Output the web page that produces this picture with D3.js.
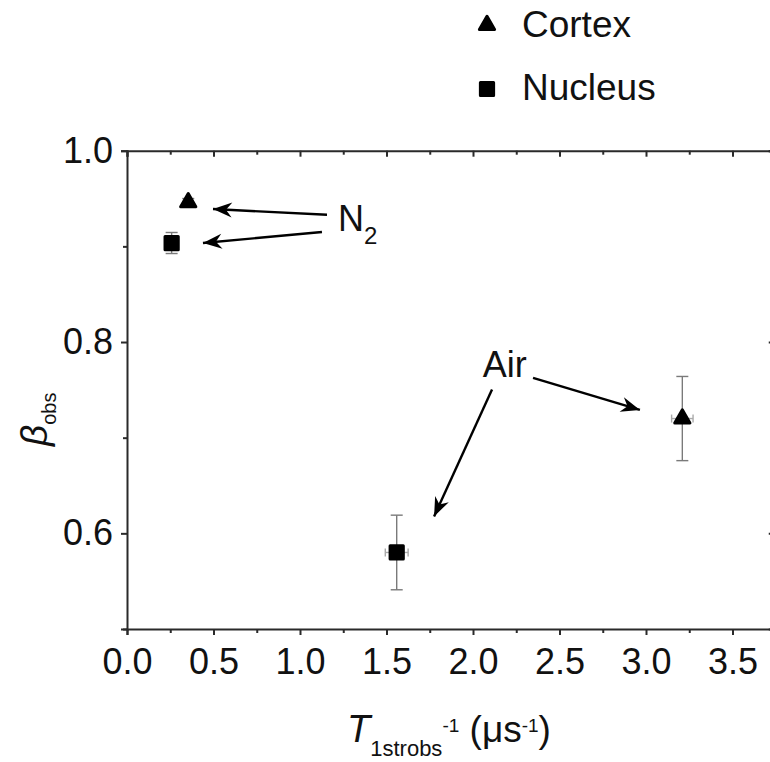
<!DOCTYPE html>
<html>
<head>
<meta charset="utf-8">
<script src="https://cdn.jsdelivr.net/npm/d3@7"></script>
<style>
  body { margin: 0; background: #fff; }
  svg text { font-family: "Liberation Sans", Arial, sans-serif; fill: #111; }
</style>
</head>
<body>
<svg width="770" height="762"></svg>
<script>
// data
var groups = ["Cortex", "Nucleus"]
var cortexX = [0.354, 3.21]
var cortexY = [0.946, 0.72]
var cortexXErr = [0.02, 0.062]
var cortexYErr = [0.004, 0.044]
var nucleusX = [0.258, 1.559]
var nucleusY = [0.9035, 0.58]
var nucleusXErr = [0.03, 0.066]
var nucleusYErr = [0.011, 0.039]

var xTicks = [0, 0.5, 1.0, 1.5, 2.0, 2.5, 3.0, 3.5]
var xMinor = [0.25, 0.75, 1.25, 1.75, 2.25, 2.75, 3.25, 3.75]
var yTicks = [0.6, 0.8, 1.0]
var yMinor = [0.5, 0.7, 0.9]

// annotation labels and arrows, in data units
var labels = [
  {text: "N", sub: "2", x: 1.22, y: 0.916},
  {text: "Air", sub: "", x: 2.056, y: 0.763}
]
var arrows = [
  [1.156, 0.933, 0.497, 0.939],
  [1.127, 0.915, 0.439, 0.9035],
  [2.347, 0.7625, 2.965, 0.729],
  [2.110, 0.7504, 1.775, 0.6177]
]

var svg = d3.select('svg')
var plotLeft = 127, plotRight = 775.75, plotTop = 150.7, plotBottom = 629

var x = d3.scaleLinear().domain([0, 3.75]).range([plotLeft, plotRight])
var y = d3.scaleLinear().domain([0.5, 1.0]).range([plotBottom, plotTop])

var axisColor = "#2a2a2a"

function styleAxis(g) {
  g.selectAll('path').attr('stroke', axisColor).attr('stroke-width', 2)
  g.selectAll('line').attr('stroke', axisColor).attr('stroke-width', 2)
  g.selectAll('text').attr('font-size', 36).attr('fill', '#111')
    .attr('font-family', '"Liberation Sans", Arial, sans-serif')
}

// bottom axis
svg.append('g')
  .attr('transform', `translate(0,${plotBottom})`)
  .call(d3.axisBottom(x).tickValues(xTicks).tickSize(6).tickPadding(13).tickFormat(d3.format('.1f')))
  .call(styleAxis)
svg.append('g')
  .attr('transform', `translate(0,${plotBottom})`)
  .call(d3.axisBottom(x).tickValues(xMinor).tickSize(4).tickFormat(''))
  .call(styleAxis)
  .select('path').remove()

// left axis
svg.append('g')
  .attr('transform', `translate(${plotLeft},0)`)
  .call(d3.axisLeft(y).tickValues(yTicks).tickSize(6).tickPadding(8).tickFormat(d3.format('.1f')))
  .call(styleAxis)
svg.append('g')
  .attr('transform', `translate(${plotLeft},0)`)
  .call(d3.axisLeft(y).tickValues(yMinor).tickSize(4).tickFormat(''))
  .call(styleAxis)
  .select('path').remove()

// top axis, ticks pointing in
svg.append('g')
  .attr('transform', `translate(0,${plotTop})`)
  .call(d3.axisBottom(x).tickValues(xTicks).tickSize(6).tickFormat(''))
  .call(styleAxis)
svg.append('g')
  .attr('transform', `translate(0,${plotTop})`)
  .call(d3.axisBottom(x).tickValues(xMinor).tickSize(4).tickFormat(''))
  .call(styleAxis)
  .select('path').remove()

// right axis, ticks pointing in
svg.append('g')
  .attr('transform', `translate(${plotRight},0)`)
  .call(d3.axisLeft(y).tickValues(yTicks).tickSize(7).tickFormat(''))
  .call(styleAxis)
svg.append('g')
  .attr('transform', `translate(${plotRight},0)`)
  .call(d3.axisLeft(y).tickValues(yMinor).tickSize(4).tickFormat(''))
  .call(styleAxis)
  .select('path').remove()

// axis titles
var xt = svg.append('text').attr('x', 347).attr('y', 742)
xt.append('tspan').text('T').attr('font-size', 38).attr('font-style', 'italic')
xt.append('tspan').text('1strobs').attr('font-size', 22).attr('dy', 14)
xt.append('tspan').text('-1').attr('font-size', 19).attr('dy', -24)
xt.append('tspan').text(' (\u03bcs').attr('font-size', 37).attr('dy', 10)
xt.append('tspan').text('-1').attr('font-size', 19).attr('dy', -10)
xt.append('tspan').text(')').attr('font-size', 37).attr('dy', 10)

var yt = svg.append('text').attr('transform', 'translate(47,446) rotate(-90)')
yt.append('tspan').text('\u03b2').attr('font-size', 37).attr('font-style', 'italic')
yt.append('tspan').text('obs').attr('font-size', 20).attr('dy', 9)

// error bars + markers
var tri = d3.symbol(d3.symbolTriangle, 100)
var sq = d3.symbol(d3.symbolSquare, 175)

function drawSeries(xs, ys, xe, ye, sym) {
  var pts = xs.map((d, i) => ({x: d, y: ys[i], ex: xe[i], ey: ye[i]}))
  var g = svg.append('g')
  var eb = g.selectAll('g.eb').data(pts).enter().append('g')
    .attr('stroke', '#7a7a7a').attr('stroke-width', 1.4)
  eb.append('line').attr('x1', d => x(d.x)).attr('x2', d => x(d.x))
    .attr('y1', d => y(d.y - d.ey)).attr('y2', d => y(d.y + d.ey))
  eb.append('line').attr('x1', d => x(d.x) - 6).attr('x2', d => x(d.x) + 6)
    .attr('y1', d => y(d.y - d.ey)).attr('y2', d => y(d.y - d.ey))
  eb.append('line').attr('x1', d => x(d.x) - 6).attr('x2', d => x(d.x) + 6)
    .attr('y1', d => y(d.y + d.ey)).attr('y2', d => y(d.y + d.ey))
  eb.append('line').attr('x1', d => x(d.x - d.ex)).attr('x2', d => x(d.x + d.ex))
    .attr('y1', d => y(d.y)).attr('y2', d => y(d.y)).attr('stroke', '#aaa')
  eb.append('line').attr('x1', d => x(d.x - d.ex)).attr('x2', d => x(d.x - d.ex))
    .attr('y1', d => y(d.y) - 4).attr('y2', d => y(d.y) + 4).attr('stroke', '#aaa')
  eb.append('line').attr('x1', d => x(d.x + d.ex)).attr('x2', d => x(d.x + d.ex))
    .attr('y1', d => y(d.y) - 4).attr('y2', d => y(d.y) + 4).attr('stroke', '#aaa')
  g.selectAll('path.m').data(pts).enter().append('path')
    .attr('d', sym)
    .attr('transform', d => `translate(${x(d.x)},${y(d.y)})`)
    .attr('fill', '#000').attr('stroke', '#000').attr('stroke-width', 3)
    .attr('stroke-linejoin', 'round')
}
drawSeries(cortexX, cortexY, cortexXErr, cortexYErr, tri)
drawSeries(nucleusX, nucleusY, nucleusXErr, nucleusYErr, sq)

// arrows
svg.append('defs').append('marker')
  .attr('id', 'head')
  .attr('markerUnits', 'userSpaceOnUse')
  .attr('markerWidth', 26).attr('markerHeight', 26)
  .attr('refX', 0).attr('refY', 0)
  .attr('viewBox', '-22 -13 26 26')
  .attr('orient', 'auto')
  .append('path')
  .attr('d', 'M0,0 L-19,-7.5 L-13,0 L-19,7.5 Z')
  .attr('fill', '#000')

svg.selectAll('line.arrow').data(arrows).enter().append('line')
  .attr('x1', d => x(d[0])).attr('y1', d => y(d[1]))
  .attr('x2', d => x(d[2])).attr('y2', d => y(d[3]))
  .attr('stroke', '#000').attr('stroke-width', 2.4)
  .attr('marker-end', 'url(#head)')

labels.forEach(l => {
  var t = svg.append('text').attr('x', x(l.x)).attr('y', y(l.y))
  t.append('tspan').text(l.text).attr('font-size', 36)
  if (l.sub) t.append('tspan').text(l.sub).attr('font-size', 24).attr('dy', 13)
})

// legend
var legend = svg.append('g')
legend.selectAll('path').data(groups).enter().append('path')
  .attr('d', (d, i) => i == 0 ? tri() : sq())
  .attr('transform', (d, i) => `translate(487,${i == 0 ? 25 : 89})`)
  .attr('fill', '#000').attr('stroke', '#000').attr('stroke-width', 3)
  .attr('stroke-linejoin', 'round')
legend.selectAll('text').data(groups).enter().append('text')
  .attr('x', 522).attr('y', (d, i) => i == 0 ? 37 : 100)
  .attr('font-size', 37)
  .text(d => d)
</script>
</body>
</html>
